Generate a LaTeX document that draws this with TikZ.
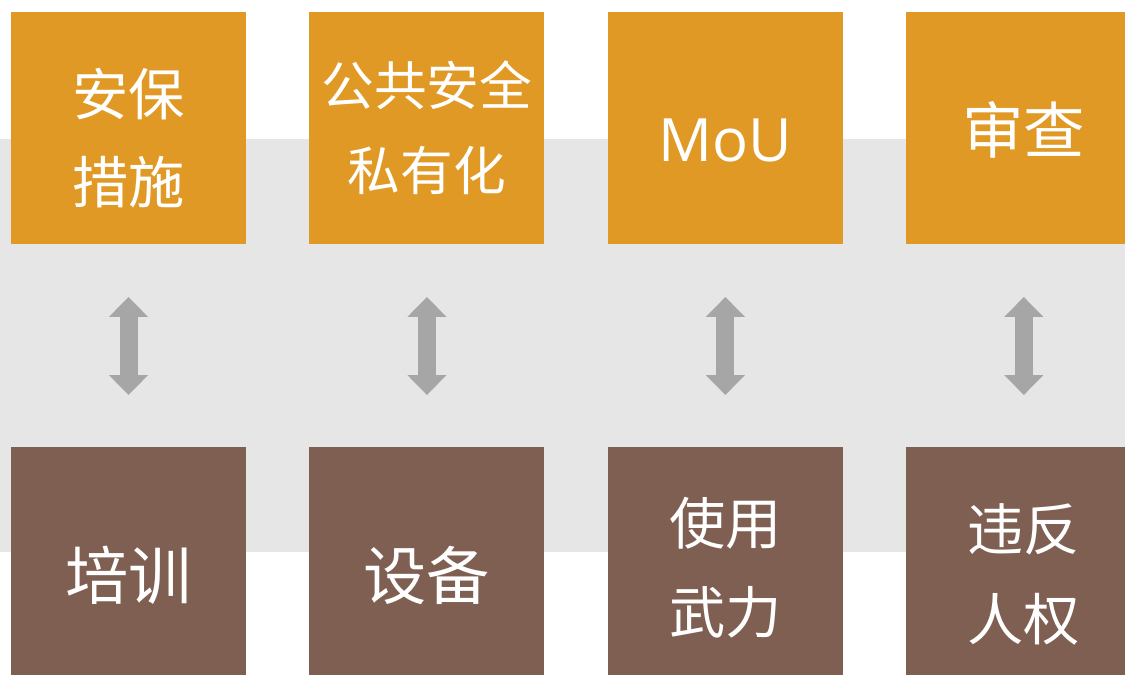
\documentclass[tikz,border=0pt]{standalone}
\usepackage{fontspec}
\newfontfamily\cjk{Noto Sans CJK SC}
\newfontfamily\lat{Open Sans}
\usetikzlibrary{positioning,arrows.meta}
\definecolor{ocre}{RGB}{225,153,37}
\definecolor{brun}{RGB}{126,95,81}
\definecolor{fond}{RGB}{230,230,230}
\definecolor{fleche}{RGB}{166,166,166}
% descend le texte sans changer sa taille apparente
\newcommand{\descend}[2]{\raisebox{-#1}[\height][\depth]{#2}}

\begin{document}
\begin{tikzpicture}[x=0.02cm,y=-0.02cm,
  haut/.style={fill=ocre,text=white,minimum width=4.7cm,minimum height=4.64cm,
    inner sep=0pt,outer sep=0pt,align=center,font=\cjk\fontsize{32}{40}\selectfont},
  bas/.style={haut,fill=brun,minimum height=5cm},
  grand/.style={font=\cjk\fontsize{36}{40}\selectfont},
  lien/.style={fleche,line width=0.36cm,
    {Triangle[width=0.76cm,length=0.4cm]}-{Triangle[width=0.76cm,length=0.4cm]},
    shorten <=1.06cm,shorten >=1.04cm},
  node distance=1.27cm]
\useasboundingbox[clip] (0,0) rectangle (1125,675);
\fill[fond] (0,139) rectangle (1125,552);

% ligne du haut
\node[haut] (h1) at (128.5,128) {\descend{0.2cm}{\shortstack{安保\\[0.62cm]措施}}};
\node[haut,right=of h1,font=\cjk\fontsize{30}{40}\selectfont] (h2) {公共安全\\[0.3cm]私有化};
\node[haut,right=of h2,font=\lat\fontsize{34}{40}\selectfont] (h3) {\descend{0.24cm}{MoU}};
\node[haut,right=of h3,font=\cjk\fontsize{35}{40}\selectfont] (h4) {\descend{0.04cm}{审查}};

% ligne du bas
\node[bas,grand] (b1) at (128.5,572) {\descend{0.06cm}{培训}};
\node[bas,grand,right=of b1] (b2) {\descend{0.06cm}{设备}};
\node[bas,right=of b2] (b3) {\descend{-0.08cm}{\shortstack{使用\\[0.63cm]武力}}};
\node[bas,right=of b3] (b4) {\descend{0.05cm}{\shortstack{违反\\[0.65cm]人权}}};

% fleches
\foreach \i in {1,...,4}
  \draw[lien] (h\i) -- (b\i);

\end{tikzpicture}
\end{document}
